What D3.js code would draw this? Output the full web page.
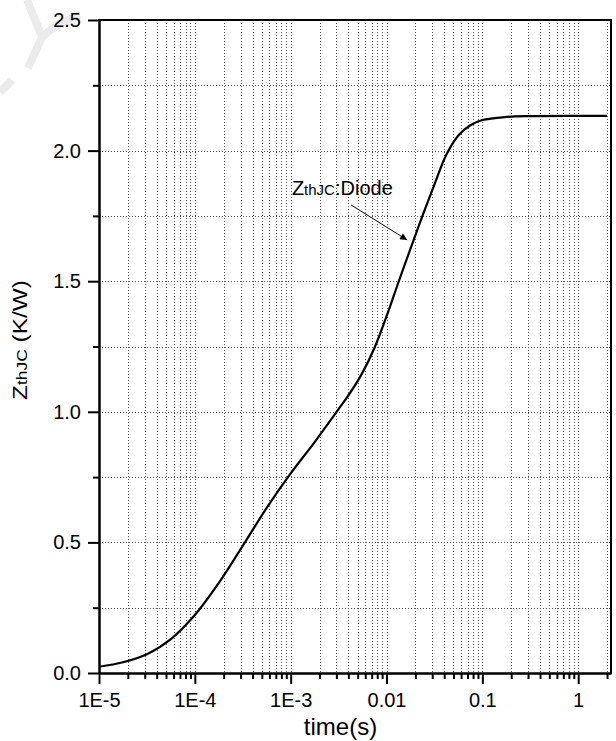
<!DOCTYPE html>
<html>
<head>
<meta charset="utf-8">
<script src="https://cdn.jsdelivr.net/npm/d3@7"></script>
<style>
  html, body { margin: 0; padding: 0; background: #fff; }
  svg { display: block; font-family: "Liberation Sans", Arial, sans-serif; }
</style>
</head>
<body>
<svg id="chart" width="616" height="741"></svg>
<script>
// ---- data ----
const timeS = [1e-5, 1.78e-5, 3.16e-5, 5.62e-5, 1e-4, 1.78e-4, 3.16e-4, 5.62e-4, 1e-3, 1.78e-3,
               3.16e-3, 4.22e-3, 5.62e-3, 7.5e-3, 1e-2, 1.33e-2, 1.78e-2, 2.37e-2, 3.16e-2, 4.22e-2,
               5.62e-2, 7.5e-2, 0.1, 0.178, 0.316, 1, 2];
const zthDiode = [0.024, 0.041, 0.072, 0.13, 0.222, 0.345, 0.487, 0.632, 0.764, 0.884,
                  1.01, 1.075, 1.15, 1.245, 1.365, 1.495, 1.625, 1.75, 1.87, 1.985,
                  2.058, 2.097, 2.117, 2.129, 2.132, 2.133, 2.133];
const xMajorTicks = [1e-5, 1e-4, 1e-3, 1e-2, 1e-1, 1];
const xTickLabels = ["1E-5", "1E-4", "1E-3", "0.01", "0.1", "1"];
const yMajorTicks = [0, 0.5, 1.0, 1.5, 2.0, 2.5];
const yMinorTicks = [0.25, 0.75, 1.25, 1.75, 2.25];
const xDomain = [1e-5, 2.2];
const yDomain = [0, 2.5];
const annotationText = ["Z", "thJC", ":Diode"];
const annotationAnchor = [1.03e-3, 1.83];      // text position (t, Z)
const arrowFrom = [4.27e-3, 1.792];
const arrowTo = [0.0164, 1.658];
const xTitle = "time(s)";
const yTitleParts = ["Z", "thJC", " (K/W)"];

// ---- layout ----
const svg = d3.select("#chart");
const L = 99, R = 611, T = 20, B = 673;

const x = d3.scaleLog().domain(xDomain).range([L, R]);
const y = d3.scaleLinear().domain(yDomain).range([B, T]);

// minor x tick values (2..9 of each decade)
const xMinorTicks = [];
xMajorTicks.forEach(d => {
  for (let k = 2; k <= 9; k++) {
    const v = d * k;
    if (v < xDomain[1]) xMinorTicks.push(v);
  }
});

// faint watermark stroke in top-left
svg.append("path")
  .attr("d", "M27,0 L42,37 M80,15 Q58,22 42,37 L28,68 M0,92 L12,80")
  .attr("fill", "none").attr("stroke", "#ebebeb").attr("stroke-width", 8)
  .attr("stroke-linecap", "butt");

// grid
const grid = svg.append("g").attr("stroke", "#555").attr("stroke-width", 1)
  .attr("stroke-dasharray", "1,2").attr("shape-rendering", "crispEdges");
grid.selectAll("line.v").data(xMajorTicks.concat(xMinorTicks).filter(v => v > xDomain[0] && v < xDomain[1]))
  .join("line").attr("class", "v")
  .attr("x1", d => Math.round(x(d)) + 0.5).attr("x2", d => Math.round(x(d)) + 0.5)
  .attr("y1", T).attr("y2", B);
grid.selectAll("line.h").data(yMajorTicks.concat(yMinorTicks).filter(v => v > yDomain[0] && v < yDomain[1]))
  .join("line").attr("class", "h")
  .attr("y1", d => Math.round(y(d)) + 0.5).attr("y2", d => Math.round(y(d)) + 0.5)
  .attr("x1", L).attr("x2", R);

// curve
const line = d3.line().x((d, i) => x(timeS[i])).y(d => y(d)).curve(d3.curveCatmullRom.alpha(0.5));
svg.append("path").datum(zthDiode)
  .attr("d", line).attr("fill", "none").attr("stroke", "#000").attr("stroke-width", 2.2);

// axes
function styleAxis(g) {
  g.selectAll("path.domain").attr("stroke", "#000").attr("stroke-width", 2);
  g.selectAll(".tick line").attr("stroke", "#000").attr("stroke-width", 2);
  g.selectAll("text").attr("fill", "#000").style("font-size", "20px")
    .style("font-family", '"Liberation Sans", Arial, sans-serif');
}
const xAxisMinor = svg.append("g").attr("transform", `translate(0,${B})`)
  .call(d3.axisBottom(x).tickValues(xMinorTicks).tickSize(6).tickSizeOuter(0).tickFormat(""));
styleAxis(xAxisMinor);
const xAxis = svg.append("g").attr("transform", `translate(0,${B})`)
  .call(d3.axisBottom(x).tickValues(xMajorTicks).tickSize(11).tickSizeOuter(0).tickPadding(9)
    .tickFormat((d, i) => xTickLabels[i]));
styleAxis(xAxis);

const yAxisMinor = svg.append("g").attr("transform", `translate(${L},0)`)
  .call(d3.axisLeft(y).tickValues(yMinorTicks).tickSize(6).tickSizeOuter(0).tickFormat(""));
styleAxis(yAxisMinor);
const yAxis = svg.append("g").attr("transform", `translate(${L},0)`)
  .call(d3.axisLeft(y).tickValues(yMajorTicks).tickSize(11).tickSizeOuter(0).tickPadding(7)
    .tickFormat(d3.format(".1f")));
styleAxis(yAxis);

// frame top & right
svg.append("line").attr("x1", L - 1).attr("x2", R + 1).attr("y1", T).attr("y2", T)
  .attr("stroke", "#000").attr("stroke-width", 2);
svg.append("line").attr("x1", R).attr("x2", R).attr("y1", T).attr("y2", B + 1)
  .attr("stroke", "#000").attr("stroke-width", 2);

// axis titles
svg.append("text").attr("x", 340.5).attr("y", 735).attr("text-anchor", "middle")
  .style("font-size", "24px").attr("fill", "#000").text(xTitle);

const yt = svg.append("g").attr("transform", "translate(27,340) rotate(-90)");
const ytText = yt.append("text").attr("text-anchor", "middle").attr("fill", "#000");
ytText.append("tspan").style("font-size", "21px").text(yTitleParts[0]);
ytText.append("tspan").style("font-size", "15px").text(yTitleParts[1]);
ytText.append("tspan").style("font-size", "21px").text(yTitleParts[2]);
ytText.attr("textLength", 120).attr("lengthAdjust", "spacingAndGlyphs");

// annotation
const ann = svg.append("text").attr("x", x(annotationAnchor[0])).attr("y", y(annotationAnchor[1]))
  .attr("fill", "#000");
ann.append("tspan").style("font-size", "20px").text(annotationText[0]);
ann.append("tspan").style("font-size", "15px").text(annotationText[1]);
ann.append("tspan").style("font-size", "20px").text(annotationText[2]);

svg.append("defs").append("marker").attr("id", "arrow")
  .attr("viewBox", "0 0 10 10").attr("refX", 10).attr("refY", 5)
  .attr("markerWidth", 13).attr("markerHeight", 7).attr("markerUnits", "userSpaceOnUse")
  .attr("orient", "auto")
  .append("path").attr("d", "M0,0 L10,5 L0,10 Z").attr("fill", "#000");
svg.append("line")
  .attr("x1", x(arrowFrom[0])).attr("y1", y(arrowFrom[1]))
  .attr("x2", x(arrowTo[0])).attr("y2", y(arrowTo[1]))
  .attr("stroke", "#000").attr("stroke-width", 1).attr("marker-end", "url(#arrow)");
</script>
</body>
</html>
